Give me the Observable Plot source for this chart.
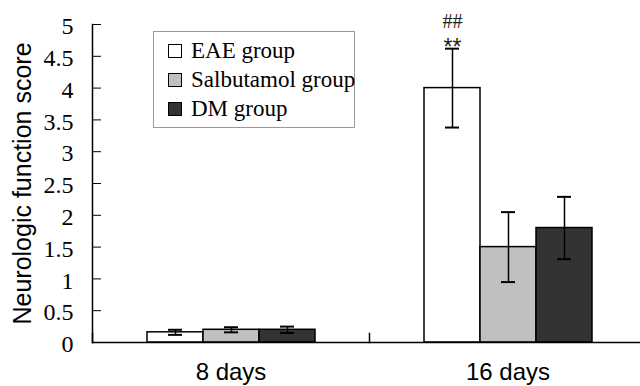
<!DOCTYPE html>
<html>
<head>
<meta charset="utf-8">
<script src="https://cdn.jsdelivr.net/npm/d3@7"></script>
<script src="https://cdn.jsdelivr.net/npm/@observablehq/plot@0.6"></script>
<style>
  html, body { margin: 0; padding: 0; background: #fff; color: #000; }
  #wrap { position: relative; width: 640px; height: 386px; overflow: hidden; background: #fff; }
  .legend { position: absolute; left: 153px; top: 31px; width: 202px; height: 97px; border: 1px solid #999; background: #fff; box-sizing: border-box; font-family: "Liberation Serif", "Times New Roman", serif; font-size: 23px; color: #000; padding-top: 4px; white-space: nowrap; }
  .legend .row { display: flex; align-items: center; height: 29px; padding-left: 14px; white-space: nowrap; }
  .legend .sw { flex: none; width: 14px; height: 14px; border: 1.5px solid #000; margin-right: 9px; box-sizing: border-box; }
</style>
</head>
<body>
<div id="wrap"></div>
<script>
const days = ["8 days", "16 days"];
const groups = ["EAE group", "Salbutamol group", "DM group"];
const colors = ["#ffffff", "#c0c0c0", "#333333"];
const means8 = [0.16, 0.20, 0.20];
const errs8 = [0.04, 0.04, 0.05];
const means16 = [4.0, 1.5, 1.8];
const errs16 = [0.62, 0.55, 0.49];
const yTicks = [0, 0.5, 1, 1.5, 2, 2.5, 3, 3.5, 4, 4.5, 5];
const marks16 = ["##", "**"];
const yTitle = "Neurologic function score";

const data = [];
groups.forEach((g, i) => data.push({day: days[0], group: g, value: means8[i], err: errs8[i]}));
groups.forEach((g, i) => data.push({day: days[1], group: g, value: means16[i], err: errs16[i]}));
const sig = data.filter(d => d.day === days[1] && d.group === groups[0]);

const SERIF = "Liberation Serif, Times New Roman, serif";
const SANS = "Liberation Sans, Arial, sans-serif";

const chart = Plot.plot({
  width: 640,
  height: 386,
  marginTop: 24,
  marginBottom: 44,
  marginLeft: 92,
  marginRight: -6,
  fx: {domain: days, padding: 0},
  x: {domain: groups, paddingInner: 0, paddingOuter: 0.973, axis: null},
  y: {domain: [0, 5]},
  color: {domain: groups, range: colors},
  marks: [
    Plot.barY(data, {fx: "day", x: "group", y: "value", fill: "group", stroke: "#000", strokeWidth: 1.5}),
    Plot.ruleX(data, {fx: "day", x: "group", y1: d => d.value - d.err, y2: d => d.value + d.err, stroke: "#000", strokeWidth: 1.5}),
    Plot.tickY(data, {fx: "day", x: "group", y: d => d.value - d.err, stroke: "#000", strokeWidth: 2, insetLeft: 21, insetRight: 21}),
    Plot.tickY(data, {fx: "day", x: "group", y: d => d.value + d.err, stroke: "#000", strokeWidth: 2, insetLeft: 21, insetRight: 21}),
    Plot.text(sig, {fx: "day", x: "group", y: d => d.value + d.err, text: () => marks16[1], dy: 6, lineAnchor: "bottom", fontFamily: SANS, fontSize: 23, fill: "#222"}),
    Plot.text(sig, {fx: "day", x: "group", y: d => d.value + d.err, text: () => marks16[0], dy: -21, lineAnchor: "bottom", fontFamily: SERIF, fontSize: 20, fill: "#222"}),
    Plot.ruleY([0], {stroke: "#000", strokeWidth: 1.5}),
    Plot.frame({anchor: "left", facetAnchor: "left", stroke: "#000", strokeWidth: 1.5}),
    Plot.frame({anchor: "left", insetTop: 309, stroke: "#000", strokeWidth: 1.5}),
    Plot.axisY({ticks: yTicks, tickSize: -9, tickPadding: 28, tickFormat: () => "", fontSize: 25, fontFamily: SANS, label: yTitle, labelAnchor: "center", labelOffset: 79, labelArrow: "none"}),
    Plot.text(yTicks, {y: d => d, text: d => String(d), frameAnchor: "left", facetAnchor: "left", dx: -19, dy: 2, textAnchor: "end", fontFamily: SERIF, fontSize: 24, fill: "#000"}),
    Plot.axisFx({anchor: "bottom", tickSize: 0, tickPadding: 20, fontSize: 24, fontFamily: SANS, label: null})
  ]
});
const wrap = document.getElementById("wrap");
wrap.appendChild(chart);

// make sure the numeric y tick labels use the serif face
chart.querySelectorAll("text").forEach(t => {
  const s = t.textContent.trim();
  if (s !== "" && isFinite(+s)) {
    t.style.fontFamily = "'Liberation Serif', serif";
    t.style.fontSize = "24px";
  }
});

const legend = document.createElement("div");
legend.className = "legend";
groups.forEach((g, i) => {
  const row = document.createElement("div");
  row.className = "row";
  const sw = document.createElement("span");
  sw.className = "sw";
  sw.style.background = colors[i];
  const t = document.createElement("span");
  t.textContent = g;
  row.appendChild(sw);
  row.appendChild(t);
  legend.appendChild(row);
});
wrap.appendChild(legend);
</script>
</body>
</html>
